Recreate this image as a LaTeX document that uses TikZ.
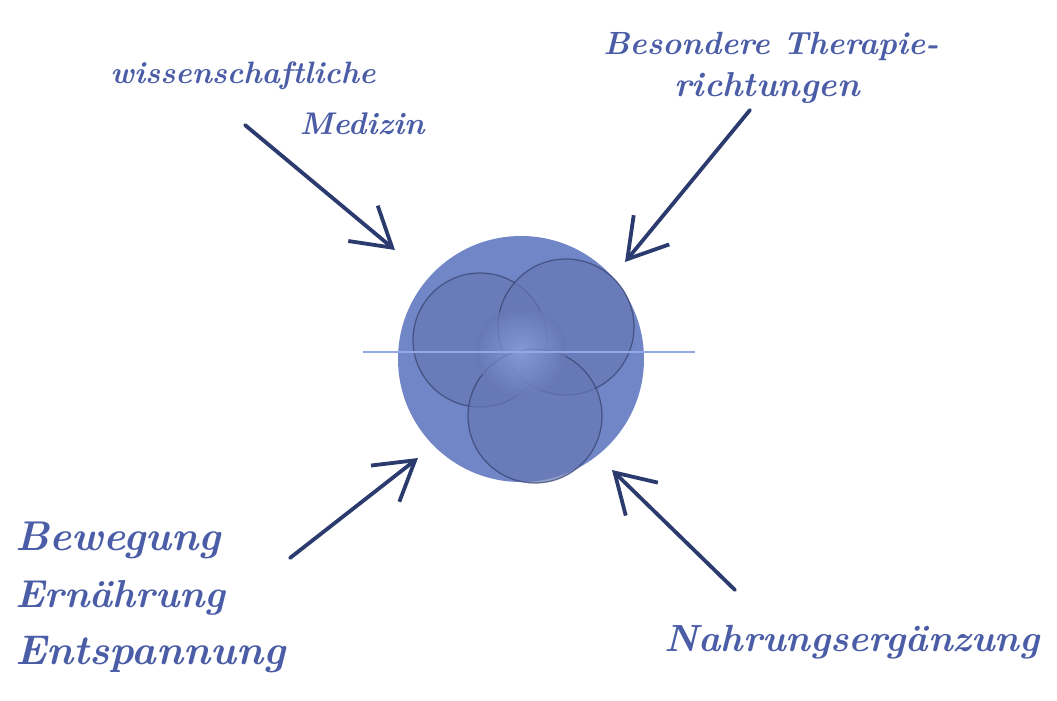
\documentclass[tikz,border=0pt]{standalone}
\usetikzlibrary{arrows.meta}
\definecolor{ink}{HTML}{4A5DA6}
\definecolor{arrowink}{HTML}{2B3B6E}
\definecolor{ballfill}{HTML}{7186C6}
\definecolor{innerfill}{HTML}{6677B4}
\definecolor{rimdark}{HTML}{33406A}
\definecolor{glow}{HTML}{93A8E6}
\newcommand{\hwtext}[2]{\resizebox{#1}{!}{\bfseries\itshape #2}}
\tikzset{
  hand/.style={text=ink, inner sep=0pt, anchor=center},
  pointer/.style={draw=arrowink, line width=3.8pt, line cap=round,
    -{Straight Barb[length=38pt,width=46pt,line width=3.8pt]}},
  inner/.style={fill=innerfill, fill opacity=0.7, draw=rimdark, draw opacity=0.7, line width=1.2pt},
}
\begin{document}
\begin{tikzpicture}[x=1pt,y=-1pt]
\useasboundingbox (0,0) rectangle (1057,701);
% ball
\node[circle, minimum size=246pt, fill=ballfill, inner sep=0pt] (ball) at (521,359) {};
\node[circle, minimum size=134pt, inner] (c1) at (480,340) {};
\node[circle, minimum size=136pt, inner] (c2) at (566,327) {};
\node[circle, minimum size=134pt, inner] (c3) at (535,416) {};
\shade[inner color=glow, outer color=innerfill, opacity=0.7] (521,352) circle (45pt);
\coordinate (hl) at (363,352);
\coordinate (hr) at (695,352);
\draw[glow, line width=1.5pt] (hl) -- (hr);
% labels
\node[hand] (t1a) at (243,76) {\hwtext{265pt}{wissenschaftliche}};
\node[hand] (t1b) at (362,124) {\hwtext{125pt}{Medizin}};
\node[hand] (t2a) at (771,46) {\hwtext{335pt}{Besondere Therapie-}};
\node[hand] (t2b) at (767,88) {\hwtext{185pt}{richtungen}};
\node[hand, anchor=west] (t3a) at (15,540) {\hwtext{205pt}{Bewegung}};
\node[hand, anchor=west] (t3b) at (15,598) {\hwtext{210pt}{Ernährung}};
\node[hand, anchor=west] (t3c) at (15,655) {\hwtext{270pt}{Entspannung}};
\node[hand] (t4) at (852,642) {\hwtext{375pt}{Nahrungsergänzung}};
% arrow endpoints
\coordinate (a1s) at (245,125); \coordinate (a1e) at (395,250);
\coordinate (a2s) at (750,110); \coordinate (a2e) at (625,262);
\coordinate (a3s) at (290,558); \coordinate (a3e) at (418,458);
\coordinate (a4s) at (735,590); \coordinate (a4e) at (612,470);
\draw[pointer] (a1s) -- (a1e);
\draw[pointer] (a2s) -- (a2e);
\draw[pointer] (a3s) -- (a3e);
\draw[pointer] (a4s) -- (a4e);
\end{tikzpicture}
\end{document}
